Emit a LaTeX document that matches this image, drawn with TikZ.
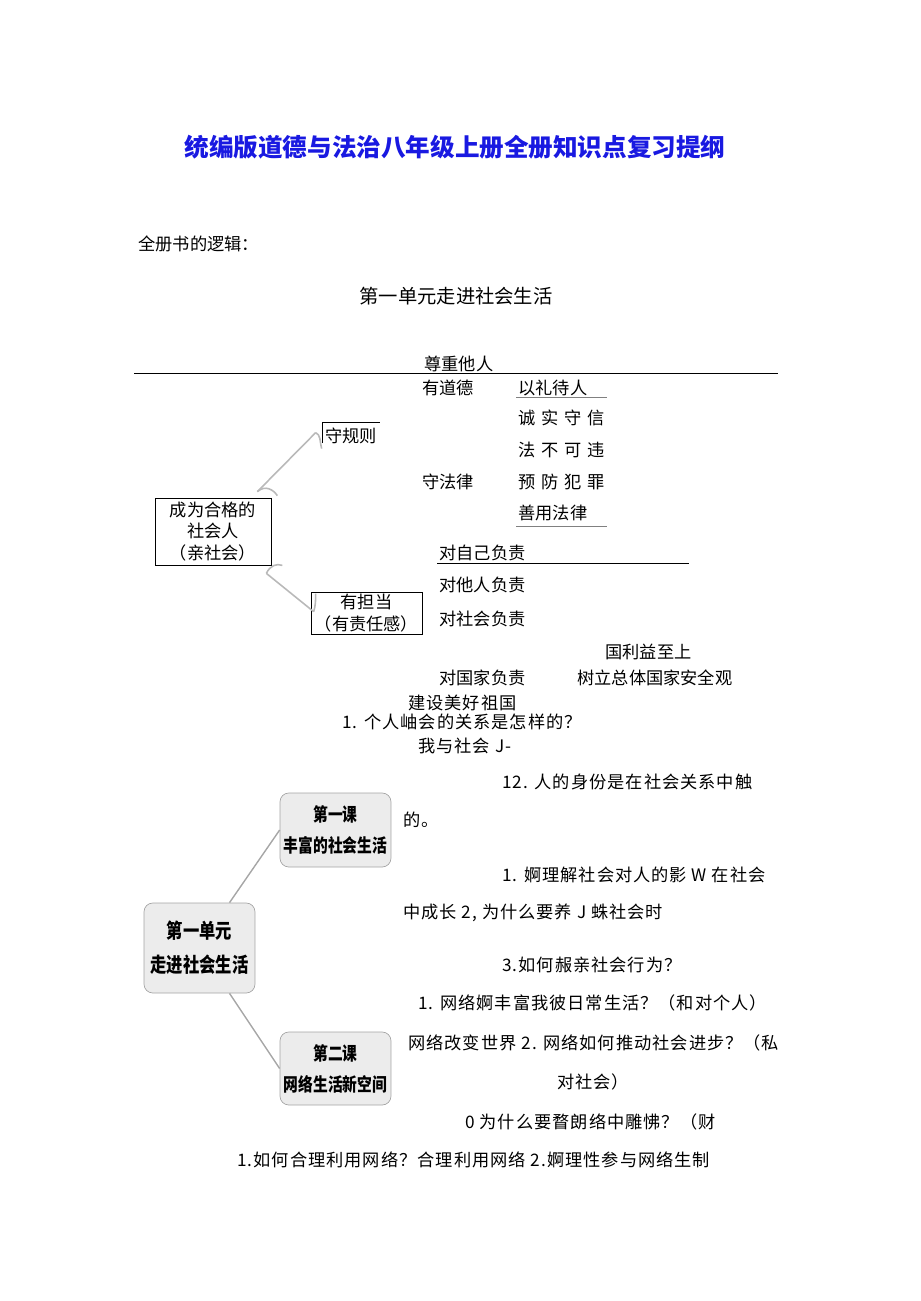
\documentclass[tikz,border=0pt]{standalone}
\usepackage{fontspec}
\setmainfont{Noto Sans CJK SC}
\newfontfamily\boxfont[FakeStretch=0.8]{Noto Sans CJK SC}
\newfontfamily\widefont[LetterSpace=5.8]{Noto Sans CJK SC}
\definecolor{titleblue}{RGB}{25,25,225}
\definecolor{mapfill}{RGB}{236,236,236}
\definecolor{mapedge}{RGB}{165,165,165}
\newcommand{\cgap}{\hspace{3.4pt}}

\begin{document}
\begin{tikzpicture}[x=0.02cm, y=-0.02cm, inner sep=0pt,
	txt/.style={anchor=west, font=\fontsize{9.8}{12}\selectfont},
	wide/.style={anchor=west, font=\widefont\fontsize{9.8}{12}\selectfont},
	frame/.style={draw, thin, align=center, font=\fontsize{9.8}{12.2}\selectfont},
	lesson/.style={draw=mapedge, fill=mapfill, rounded corners=5pt, align=center, minimum width=2.22cm, font=\boxfont\bfseries\fontsize{10.5}{17.6}\selectfont},
	brace/.style={gray!55, line width=0.9pt},
	link/.style={gray!70, line width=0.8pt}]
	\useasboundingbox (0,0) rectangle (920,1301);

		\node (title) at (455,147) [font=\bfseries\fontsize{14}{16}\selectfont, text=titleblue] {统编版道德与法治八年级上册全册知识点复习提纲};
		\node[txt] (logic) at (138,244) {全册书的逻辑：};
		\node (unithead) at (456,296) [font=\fontsize{11}{13}\selectfont] {第一单元走进社会生活};

		\node[txt] (respect)  at (424,364) {尊重他人};
		\draw (134,373) -- (778,373);
		\node[txt] (moral)    at (422,388) {有道德};
		\node[txt] (courtesy) at (518,388) {以礼待人};
		\draw[gray] (516,397) -- (607,397);
		\node[txt] (honest)   at (518,418) {诚\cgap 实\cgap 守\cgap 信};
		\node[txt] (nolaw)    at (518,450) {法\cgap 不\cgap 可\cgap 违};
		\node[txt] (law)      at (422,482) {守法律};
		\node[txt] (crime)    at (518,482) {预\cgap 防\cgap 犯\cgap 罪};
		\node[txt] (uselaw)   at (518,513) {善用法律};
		\draw[gray] (516,526) -- (607,526);

		\node[frame, minimum width=2.32cm, minimum height=1.34cm] (person) at (213,531.5) {成为合格的\\社会人\\（亲社会）};
		\node[txt, anchor=center, minimum width=1.14cm, minimum height=0.52cm] (rule) at (351,436) {守规则};
		\draw ([yshift=-0.14cm]rule.west) |- (rule.north east);
		\node[frame, minimum width=2.22cm, minimum height=0.84cm] (duty) at (366.5,613) {有担当\\（有责任感）};

		\draw[brace] ([xshift=-0.28cm,yshift=0.12cm]person.north east) coordinate (upfoot) -- ([xshift=-0.13cm,yshift=-0.2cm]rule.north west) coordinate (uptip);
		\draw[brace] (upfoot) .. controls +(8,-7) and +(-4,-6) .. +(20,4);
		\draw[brace] (uptip) .. controls +(5,2) and +(-2,-8) .. +(6,16);
		\draw[brace] ([xshift=-0.1cm,yshift=-0.16cm]person.south east) coordinate (lowfoot) -- ([xshift=0.06cm,yshift=-0.4cm]duty.north west) coordinate (lowtip);
		\draw[brace] (lowfoot) .. controls +(4,-8) and +(-6,-2) .. +(16,-8);
		\draw[brace] (lowtip) .. controls +(2,-6) and +(0,6) .. +(2,-18);

		\node[txt] (self)     at (439,553) {对自己负责};
		\draw (437,563) -- (689,563);
		\node[txt] (others)   at (439,585) {对他人负责};
		\node[txt] (society)  at (439,619) {对社会负责};
		\node[txt] (interest) at (605,652) {国利益至上};
		\node[txt] (country)  at (439,678) {对国家负责};
		\node[txt] (security) at (577,678) {树立总体国家安全观};
		\node[wide] (build)    at (408,703) {建设美好祖国};
		\node[wide] (relation) at (342,722) {1. 个人岫会的关系是怎样的？};
		\node[wide] (me)       at (418,746) {我与社会 J-};

		\node[lesson, minimum height=1.48cm] (lesson1) at (335.5,830) {第一课\\丰富的社会生活};
		\node[lesson, minimum height=1.8cm, font=\boxfont\bfseries\fontsize{11.6}{19.3}\selectfont] (unit) at (199.5,948) {第一单元\\走进社会生活};
		\node[lesson, minimum height=1.46cm] (lesson2) at (335.5,1068.5) {第二课\\网络生活新空间};
		\draw[link] ([xshift=0.6cm]unit.north) -- (lesson1.west);
		\draw[link] ([xshift=0.6cm]unit.south) -- (lesson2.west);

		\node[wide] (identity)   at (502,782)  {12. 人的身份是在社会关系中触};
		\node[wide] (de)         at (403,820)  {的。};
		\node[wide] (understand) at (502,875)  {1. 婀理解社会对人的影 W 在社会};
		\node[wide] (grow)       at (403,913)  {中成长 2, 为什么要养 J 蛛社会时};
		\node[wide] (prosocial)  at (502,965)  {3.如何赧亲社会行为？};
		\node[wide] (enrich)     at (418,1003) {1. 网络婀丰富我彼日常生活？（和对个人）};
		\node[wide] (change)     at (408,1043) {网络改变世界 2. 网络如何推动社会进步？（私};
		\node[wide] (tosociety)  at (557,1082) {对社会）};
		\node[wide] (why)        at (465,1122) {0 为什么要瞀朗络中雕怫？（财};
		\node[wide] (useweb)     at (237,1160) {1.如何合理利用网络？合理利用网络 2.婀理性参与网络生制};
	\end{tikzpicture}
\end{document}
